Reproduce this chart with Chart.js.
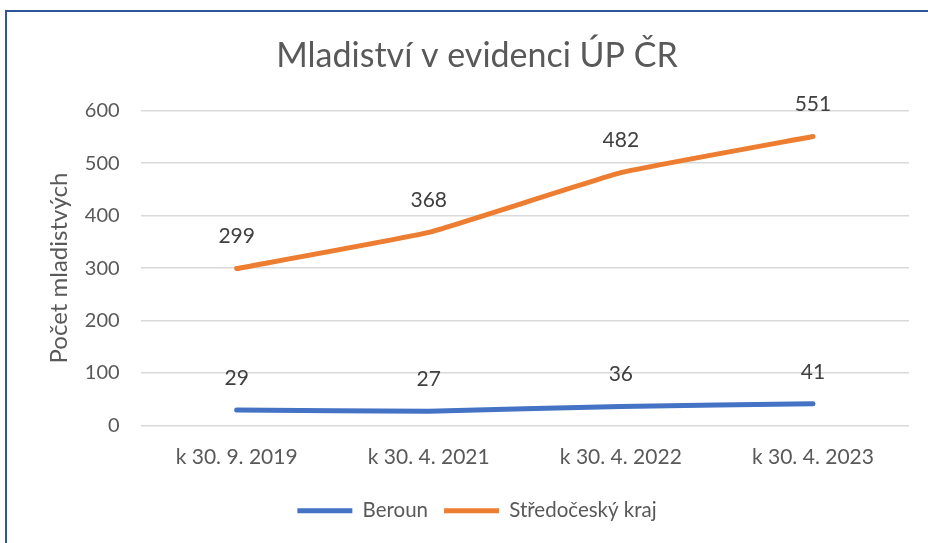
<!DOCTYPE html>
<html>
<head>
<meta charset="utf-8">
<script src="https://cdn.jsdelivr.net/npm/chart.js@4.4.1/dist/chart.umd.min.js"></script>
<style>
  html, body { margin: 0; padding: 0; background: #fff; overflow: hidden; }
  #frame { position: absolute; left: 5px; top: 10px; width: 940px; height: 560px; border: 2px solid #2F5597; box-sizing: border-box; }
  #wrap { position: absolute; left: 0; top: 0; width: 928px; height: 543px; }
</style>
</head>
<body>
<div id="frame"></div>
<div id="wrap"><canvas id="myChart"></canvas></div>
<script>
const labels = ['k 30. 9. 2019', 'k 30. 4. 2021', 'k 30. 4. 2022', 'k 30. 4. 2023'];
const beroun = [29, 27, 36, 41];
const stredocesky = [299, 368, 482, 551];
const yTicks = [0, 100, 200, 300, 400, 500, 600];

const font = 'Lato, "Open Sans", sans-serif';
const textColor = '#595959';

// value labels above each point
const valueLabels = {
    id: 'valueLabels',
    afterDatasetsDraw(chart) {
        const ctx = chart.ctx;
        ctx.save();
        ctx.font = '21px ' + font;
        ctx.fillStyle = '#404040';
        ctx.textAlign = 'center';
        ctx.textBaseline = 'middle';
        chart.data.datasets.forEach((ds, i) => {
            chart.getDatasetMeta(i).data.forEach((pt, j) => {
                ctx.fillText(ds.data[j], pt.x, pt.y - 32);
            });
        });
        ctx.restore();
    }
};

const canvas = document.getElementById('myChart');
const ctx = canvas.getContext('2d');
new Chart(ctx, {
    type: 'line',
    data: {
        labels: labels,
        datasets: [{
            label: 'Beroun',
            data: beroun,
            borderColor: '#4472C4',
            backgroundColor: '#4472C4',
            borderWidth: 5,
            borderCapStyle: 'round',
            pointRadius: 0,
            tension: 0.1
        }, {
            label: 'Středočeský kraj',
            data: stredocesky,
            borderColor: '#ED7D31',
            backgroundColor: '#ED7D31',
            borderWidth: 5,
            borderCapStyle: 'round',
            pointRadius: 0,
            tension: 0.1
        }]
    },
    options: {
        responsive: true,
        maintainAspectRatio: false,
        animation: false,
        layout: { padding: { left: 45, right: 19, top: 10, bottom: 12 } },
        plugins: {
            title: {
                display: true,
                text: 'Mladiství v evidenci ÚP ČR',
                color: textColor,
                font: { family: font, size: 34, weight: 'normal' },
                padding: { top: 26, bottom: 34 }
            },
            legend: {
                position: 'bottom',
                labels: {
                    color: textColor,
                    font: { family: font, size: 20.5 },
                    usePointStyle: true,
                    pointStyle: 'line',
                    pointStyleWidth: 55,
                    boxHeight: 5,
                    padding: 16
                }
            },
            tooltip: { enabled: false }
        },
        scales: {
            x: {
                offset: true,
                afterFit(axis) { axis.height += 4; },
                grid: { display: false },
                border: { display: false },
                ticks: { color: textColor, font: { family: font, size: 21 }, padding: 11 }
            },
            y: {
                min: 0,
                max: 600,
                afterBuildTicks(axis) { axis.ticks = yTicks.map(v => ({ value: v })); },
                afterFit(axis) { axis.width -= 10; },
                grid: { color: '#D9D9D9', lineWidth: 1.5, drawTicks: false },
                border: { display: false },
                ticks: { color: textColor, font: { family: font, size: 20 }, padding: 21 },
                title: {
                    display: true,
                    text: 'Počet mladistvých',
                    color: textColor,
                    font: { family: font, size: 24 },
                    padding: { top: 0, bottom: 0 }
                }
            }
        }
    },
    plugins: [valueLabels]
});
</script>
</body>
</html>
